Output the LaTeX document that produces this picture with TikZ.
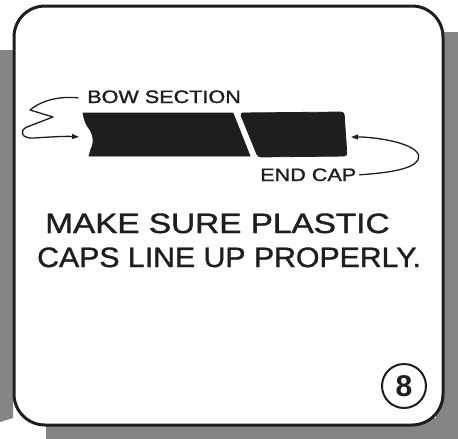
\documentclass[tikz,border=0pt]{standalone}
\usepackage{fontspec}
\setmainfont{Liberation Sans}
\newfontfamily\hand{Liberation Sans}[FakeBold=1.2]
\usetikzlibrary{arrows.meta}
\definecolor{ink}{HTML}{1E1E1E}
\definecolor{screen}{gray}{0.52}
\begin{document}
\begin{tikzpicture}[x=1pt,y=-1pt,
  lettering/.style={inner sep=0pt, anchor=base west, text=ink},
  leader/.style={draw=ink, line width=1.3pt, line cap=round, line join=round},
  tip/.style={-{Triangle[length=7pt,width=5pt]}},
  barpart/.style={fill=ink, draw=ink, line width=0.8pt, line join=round}]
\useasboundingbox (0,0) rectangle (458,439);
\fill[white] (0,0) rectangle (458,439);
% halftone screen showing round the card
\fill[screen] (0,50) -- (13,50) -- (13,418) -- (0,422) -- cycle;
\fill[screen] (436,32) -- (458,32) -- (458,439) -- (46,439) -- (46,418) -- (436,418) -- cycle;
% the card
\draw[fill=white, line width=3pt, draw=ink, rounded corners=31pt]
  (14,6) rectangle (443,425);

% the bow section and the end cap
\path[barpart] (83,113) -- (233,113) -- (250,156) -- (89,156)
  -- (91,149) .. controls (95,142) and (93,133) .. (88,127)
  .. controls (85,123) and (84,118) .. cycle;
\path[barpart, rounded corners=3pt] (240,113) -- (344,112) -- (347,156) -- (258,157) -- cycle;
\coordinate (bowtip) at (79,137);
\coordinate (captip) at (351,137);

% labels
\node[lettering, font=\hand\fontsize{18}{18}\selectfont, xscale=1.2] (bow) at (87,103) {BOW SECTION};
\node[lettering, font=\hand\fontsize{18}{18}\selectfont, xscale=1.2] (cap) at (260,181) {END CAP};
\node[lettering, font=\hand\fontsize{28}{28}\selectfont, xscale=1.19] (l1) at (45,233) {MAKE SURE PLASTIC};
\node[lettering, font=\hand\fontsize{28}{28}\selectfont, xscale=1.08] (l2) at (37,267) {CAPS LINE UP PROPERLY.};
\node[circle, draw=ink, line width=2pt, minimum size=44pt, inner sep=0pt, text=ink,
  font=\fontsize{30}{30}\selectfont\bfseries] (num) at (404,386) {8};

% leaders
\draw[leader, tip] ([xshift=-9pt,yshift=-1pt]bow.west) .. controls (60,96) and (42,100) .. (30,110)
  -- (53,117) -- (27,127) .. controls (18,131) and (22,139) .. (34,138)
  .. controls (50,137) and (65,136) .. (bowtip);
\draw[leader, tip] ([xshift=3pt]cap.east) .. controls (385,173) and (412,170) .. (418,160)
  .. controls (424,148) and (395,139) .. (362,137) -- (captip);
\end{tikzpicture}
\end{document}
